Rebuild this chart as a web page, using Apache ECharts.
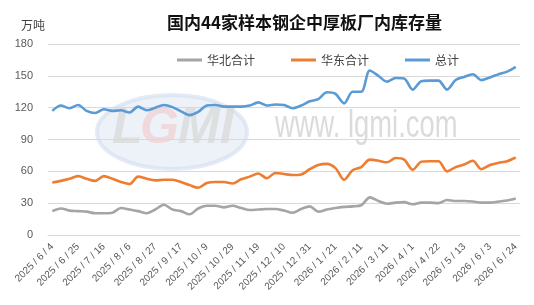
<!DOCTYPE html>
<html>
<head>
<meta charset="utf-8">
<script src="https://cdn.jsdelivr.net/npm/echarts@6/dist/echarts.min.js"></script>
<style>html,body{margin:0;padding:0;background:#fff}#c{width:534px;height:305px}</style>
</head>
<body>
<div id="c"></div>
<script>
const categories = [
'2025/6/4','2025/6/11','2025/6/18','2025/6/25','2025/7/2','2025/7/9','2025/7/16','2025/7/23','2025/7/30','2025/8/6',
'2025/8/13','2025/8/20','2025/8/27','2025/9/3','2025/9/10','2025/9/17','2025/9/24','2025/9/30','2025/10/9','2025/10/15',
'2025/10/22','2025/10/29','2025/11/5','2025/11/12','2025/11/19','2025/11/26','2025/12/3','2025/12/10','2025/12/17','2025/12/24',
'2025/12/31','2026/1/7','2026/1/14','2026/1/21','2026/1/28','2026/2/4','2026/2/11','2026/2/25','2026/3/4','2026/3/11',
'2026/3/18','2026/3/25','2026/4/1','2026/4/8','2026/4/15','2026/4/22','2026/4/29','2026/5/6','2026/5/13','2026/5/20',
'2026/5/27','2026/6/3','2026/6/10','2026/6/17','2026/6/24'];

const northTotal = [
22.5,25,23,22.5,22,20.5,20.5,21,25.5,24,
22.5,20.5,24,28.5,24,22.5,19.5,25,27.5,27.5,
26,27.5,25.5,23.5,24,24.5,24.5,23,21,24.5,
27,22,24,25.5,26.5,27,28,35.5,32,29.5,
30.5,31,29,30.5,30.5,30,33,32,32,31.5,
30.5,30.5,31.5,32.5,34.5];

const eastTotal = [
49.5,51,53,55.5,53,51,55.5,53,50,48,
55,53,51.5,52,52,50,47,44.5,49,50,
50,48.5,52.5,55,58,53.5,58.5,57.5,56.5,57,
62,66,67,63,52,61,64,71,70,68.5,
72.5,71,61.5,69,69.5,69.5,60,64,66.5,70,
62,66,68,69.5,73];

const grandTotal = [
117,122,119.5,122.5,117,115,118.5,117,117.5,115.5,
121,117.5,120,122.5,120.5,116.5,113,116,122,122.5,
121,121,121,122,125,122,123,122.5,119.5,122,
126,128,134.5,133,124,135,135,155,150,144.5,
148,147.5,137,145,145.5,145.5,137,146,149,151.5,
146,148.5,151.5,154,158.5];

const yTicks = [0, 30, 60, 90, 120, 150, 180];
const seriesNames = ['华北合计', '华东合计', '总计'];

const chart = echarts.init(document.getElementById('c'), null, {renderer: 'canvas'});
const font = '"Noto Sans CJK SC", "Liberation Sans", sans-serif';
const lineW = 2.6;
chart.setOption({
  animation: false,
  backgroundColor: '#fff',
  textStyle: {fontFamily: font},
  title: {
    text: '国内44家样本钢企中厚板厂内库存量',
    left: 162, top: 9,
    textStyle: {fontSize: 17, fontWeight: 'bold', color: '#111', fontFamily: font}
  },
  graphic: [
    {type: 'text', left: 21, top: 19, style: {text: '万吨', fontSize: 12, fill: '#404040', fontFamily: font}},
    {type: 'ellipse', z: -10, shape: {cx: 172, cy: 132, rx: 75, ry: 37},
      style: {fill: 'rgba(200,216,236,0.32)', stroke: 'rgba(205,218,236,0.55)', lineWidth: 4}},
    {type: 'text', z: -9, x: 112, y: 104, style: {text: 'L', fontSize: 50, fontWeight: 'bold', fontStyle: 'italic', fill: 'rgba(215,215,215,0.7)', fontFamily: 'Liberation Sans'}},
    {type: 'text', z: -9, x: 140, y: 104, style: {text: 'G', fontSize: 50, fontWeight: 'bold', fontStyle: 'italic', fill: 'rgba(240,200,200,0.6)', fontFamily: 'Liberation Sans'}},
    {type: 'text', z: -9, x: 178, y: 104, style: {text: 'MI', fontSize: 50, fontWeight: 'bold', fontStyle: 'italic', fill: 'rgba(215,215,215,0.7)', fontFamily: 'Liberation Sans'}},
    {type: 'text', z: -9, x: 275, y: 108, scaleX: 0.72, style: {text: 'www. lgmi.com', fontSize: 38, fill: 'rgba(210,210,210,0.8)', fontFamily: 'Liberation Sans'}}
  ],
  legend: {
    data: seriesNames,
    left: 172, top: 49,
    itemWidth: 25, itemHeight: 3, itemGap: 36,
    icon: 'rect',
    textStyle: {fontSize: 12, color: '#404040', fontFamily: font}
  },
  grid: {left: 48, right: 14, top: 44, bottom: 70, containLabel: false},
  xAxis: {
    type: 'category',
    data: categories,
    boundaryGap: true,
    axisLine: {lineStyle: {color: '#d9d9d9'}},
    axisTick: {show: false},
    axisLabel: {interval: 2, rotate: 45, fontSize: 10, color: '#595959', margin: 10, fontFamily: 'Liberation Sans',
      formatter: v => v.replace(/\//g, ' / ')}
  },
  yAxis: {
    type: 'value',
    min: yTicks[0], max: yTicks[yTicks.length - 1], interval: 30,
    axisLine: {show: false},
    axisTick: {show: false},
    axisLabel: {fontSize: 11, color: '#595959', margin: 15, fontFamily: 'Liberation Sans'},
    splitLine: {lineStyle: {color: '#d9d9d9'}}
  },
  series: [
    {name: seriesNames[0], type: 'line', data: northTotal, smooth: 0.3, symbol: 'none', lineStyle: {width: lineW, color: '#A5A5A5'}, itemStyle: {color: '#A5A5A5'}},
    {name: seriesNames[1], type: 'line', data: eastTotal, smooth: 0.3, symbol: 'none', lineStyle: {width: lineW, color: '#ED7D31'}, itemStyle: {color: '#ED7D31'}},
    {name: seriesNames[2], type: 'line', data: grandTotal, smooth: 0.3, symbol: 'none', lineStyle: {width: lineW, color: '#5B9BD5'}, itemStyle: {color: '#5B9BD5'}}
  ]
});
</script>
</body>
</html>
